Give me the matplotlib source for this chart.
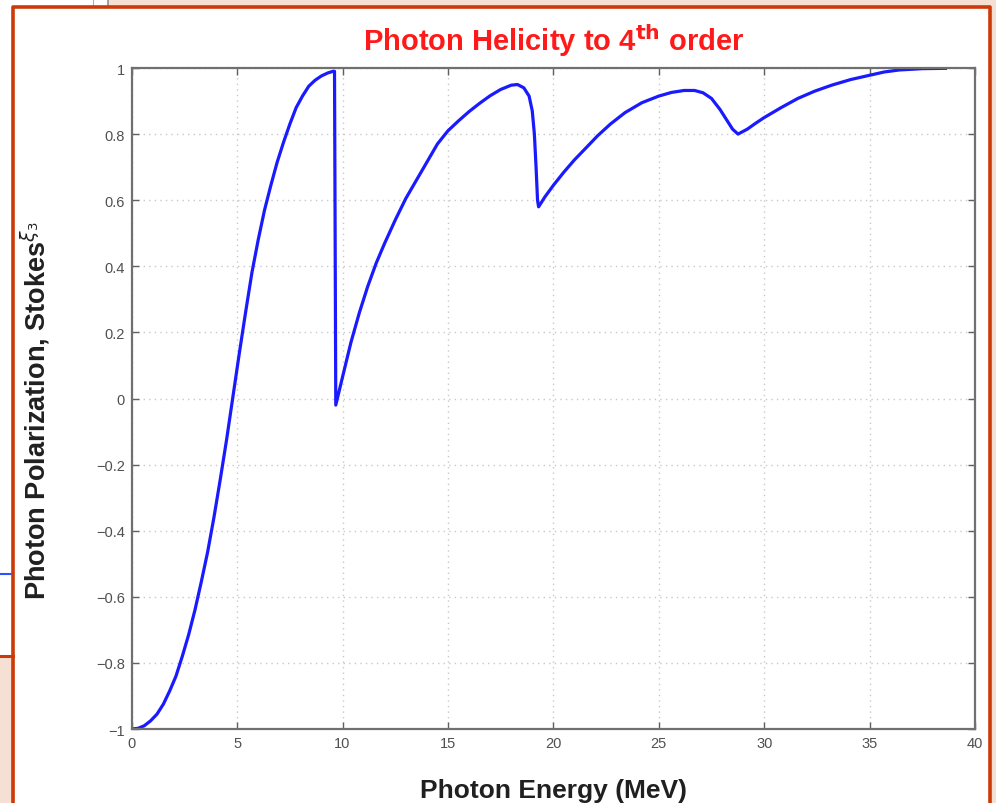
import matplotlib
matplotlib.use("Agg")
import matplotlib.pyplot as plt
from matplotlib.patches import Rectangle
from matplotlib.lines import Line2D

# --- data ---
energy = [0.0, 0.3, 0.6, 0.9, 1.2, 1.5, 1.8, 2.1, 2.4, 2.7, 3.0, 3.3, 3.6, 3.9, 4.2,
          4.5, 4.8, 5.1, 5.4, 5.7, 6.0, 6.3, 6.6, 6.9, 7.2, 7.5, 7.8, 8.1, 8.4, 8.7,
          9.0, 9.3, 9.55, 9.62,
          9.68, 10.0, 10.4, 10.8, 11.2, 11.6, 12.0, 12.5, 13.0, 13.5, 14.0, 14.5,
          15.0, 15.5, 16.0, 16.5, 17.0, 17.5, 18.0, 18.3, 18.6, 18.85, 19.0, 19.1,
          19.18, 19.25, 19.3,
          19.6, 20.0, 20.5, 21.0, 21.5, 22.1, 22.7, 23.4, 24.2, 25.0, 25.6, 26.2,
          26.7, 27.1, 27.5, 27.9, 28.2, 28.5, 28.76, 29.2, 29.6, 30.0, 30.8, 31.6,
          32.4, 33.2, 34.1, 35.0, 35.7, 36.4, 37.5, 38.6]
stokes3 = [-1.0, -0.998, -0.99, -0.975, -0.955, -0.925, -0.885, -0.84, -0.78, -0.715,
           -0.64, -0.555, -0.465, -0.36, -0.245, -0.125, 0.005, 0.135, 0.26, 0.38,
           0.48, 0.57, 0.645, 0.715, 0.775, 0.83, 0.88, 0.915, 0.945, 0.963, 0.976,
           0.985, 0.99, 0.99,
           -0.02, 0.065, 0.17, 0.26, 0.34, 0.41, 0.47, 0.54, 0.605, 0.66, 0.715, 0.77,
           0.81, 0.84, 0.868, 0.893, 0.916, 0.935, 0.948, 0.95, 0.94, 0.915, 0.87,
           0.8, 0.7, 0.6, 0.58,
           0.61, 0.645, 0.685, 0.722, 0.755, 0.795, 0.83, 0.865, 0.895, 0.915, 0.926,
           0.932, 0.932, 0.925, 0.908, 0.875, 0.845, 0.815, 0.8, 0.815, 0.833, 0.85,
           0.88, 0.908, 0.93, 0.948, 0.965, 0.978, 0.988, 0.994, 0.998, 0.999]
xticks = [0, 5, 10, 15, 20, 25, 30, 35, 40]
yticks = [-1, -0.8, -0.6, -0.4, -0.2, 0, 0.2, 0.4, 0.6, 0.8, 1]

W, H = 996, 804
plt.rcParams['font.family'] = ['Liberation Sans', 'DejaVu Sans']
fig = plt.figure(figsize=(W / 100, H / 100), dpi=100, facecolor='white')

def fx(x):
    return x / W

def fy(y):
    return 1 - y / H

# slide background bits around the frame
pink = '#f6e0d4'
orange = '#cc3a0a'
fig.add_artist(Rectangle((fx(108), fy(8)), fx(W - 108), 8 / H, color=pink, transform=fig.transFigure, zorder=0))
fig.add_artist(Rectangle((0, 0), fx(13), fy(657), color=pink, transform=fig.transFigure, zorder=0))
fig.add_artist(Rectangle((fx(990), 0), fx(6), 1, color=pink, transform=fig.transFigure, zorder=0))
fig.add_artist(Line2D([0, fx(13)], [fy(575), fy(575)], color='#3050ff', lw=1.5, transform=fig.transFigure))
fig.add_artist(Line2D([0, fx(13)], [fy(657), fy(657)], color=orange, lw=2.2, transform=fig.transFigure))
fig.add_artist(Line2D([fx(93), fx(93)], [1, fy(6)], color='#b0b0b0', lw=0.8, transform=fig.transFigure))
fig.add_artist(Line2D([fx(108), fx(108)], [1, fy(8)], color='#909090', lw=1.2, transform=fig.transFigure))
# orange frame
fig.add_artist(Line2D([fx(13), fx(13), fx(990), fx(990)], [0, fy(8), fy(8), 0],
                      color=orange, lw=2.6, transform=fig.transFigure))

ax = fig.add_axes([fx(131.7), 1 - 730 / H, fx(975 - 131.7), (730 - 69) / H])
ax.plot(energy, stokes3, color='#1a1aff', lw=2.3, solid_joinstyle='round')

ax.set_xlim(0, 40)
ax.set_ylim(-1, 1)
ax.set_xticks(xticks)
ax.set_yticks(yticks)
ax.set_xticklabels([str(t) for t in xticks])
ax.set_yticklabels(['\u22121' if t == -1 else ('0' if t == 0 else ('1' if t == 1 else f'{t:.1f}'.replace('-', '\u2212')))
                    for t in yticks])
ax.tick_params(direction='in', top=True, right=True, length=5, width=1,
               colors='#606060', labelsize=10.5, labelcolor='#505050', pad=5)
ax.grid(True, color='#c8c8c8', linestyle=(0, (1, 3)), lw=1)
for s in ax.spines.values():
    s.set_color('#707070')
    s.set_linewidth(1.6)

ax.set_title('Photon Helicity to 4$^{\\mathbf{th}}$ order', color='#ff1a1a',
             fontsize=21, fontweight='bold', pad=13)
ax.set_xlabel('Photon Energy (MeV)', fontsize=19, fontweight='bold', color='#202020', labelpad=20)
ax.set_ylabel('Photon Polarization, Stokes$^{\\xi_3}$', fontsize=19.5, fontweight='bold',
              color='#202020')
ax.yaxis.set_label_coords(-0.093, 0.483)

fig.savefig('out.png', dpi=100, facecolor='white')
